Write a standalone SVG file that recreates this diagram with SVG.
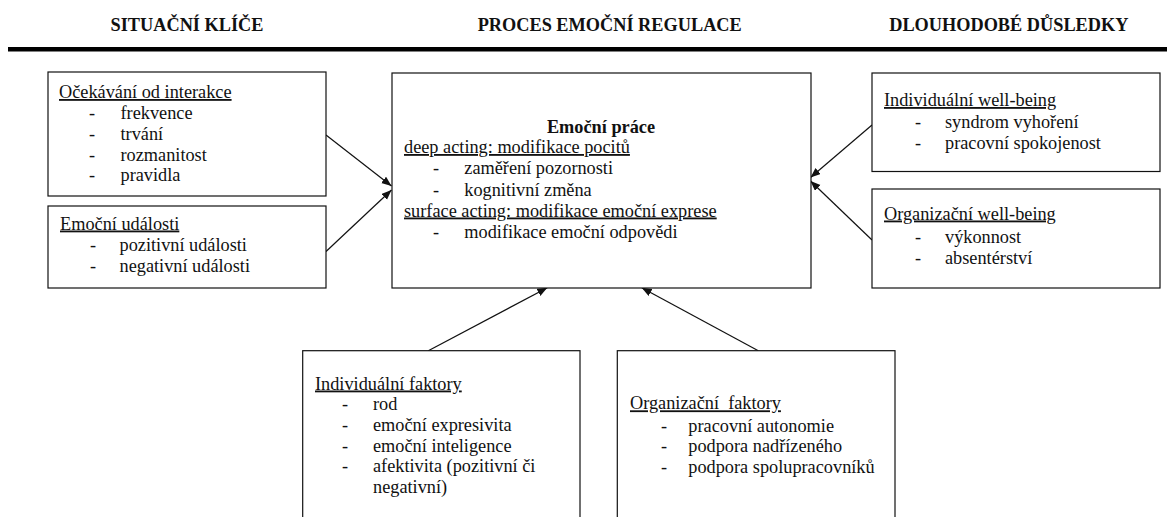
<svg xmlns="http://www.w3.org/2000/svg" width="1170" height="517" viewBox="0 0 1170 517">
<defs>
<style>
text{font-family:"Liberation Serif","Times New Roman",serif;font-size:18.3px;fill:#111}
.h{font-weight:bold;text-anchor:middle}
.b{font-weight:bold}
.u{text-decoration:underline}
.d{text-anchor:middle}
.box{fill:#fff;stroke:#111;stroke-width:1.2}
.c{stroke:#111;stroke-width:1.2;fill:none;marker-end:url(#ah)}
</style>
<marker id="ah" markerUnits="userSpaceOnUse" markerWidth="11" markerHeight="9" refX="10" refY="4" orient="auto">
<path d="M0,0 L10,4 L0,8 z" fill="#111"/>
</marker>
</defs>
<rect width="1170" height="517" fill="#fff"/>
<g id="headers">
<text class="h" x="187" y="30.5">SITUAČNÍ KLÍČE</text>
<text class="h" x="609.7" y="30.5">PROCES EMOČNÍ REGULACE</text>
<text class="h" x="1008.8" y="30.5">DLOUHODOBÉ DŮSLEDKY</text>
<rect x="8" y="47" width="1159" height="4.5" fill="#000"/>
</g>
<g id="connectors">
<line class="c" x1="326" y1="135" x2="391.5" y2="186"/>
<line class="c" x1="326" y1="251.5" x2="391.5" y2="190"/>
<line class="c" x1="872" y1="125" x2="810.5" y2="177.5"/>
<line class="c" x1="872" y1="240" x2="810.5" y2="181"/>
<line class="c" x1="428.3" y1="350.7" x2="547.3" y2="287.7"/>
<line class="c" x1="758.3" y1="350.7" x2="641.7" y2="287.7"/>
</g>
<g id="ocekavani">
<rect class="box" x="48" y="72" width="278" height="124"/>
<text class="u" x="59" y="98">Očekávání od interakce</text>
<text class="d" x="92" y="119">-</text><text x="120.5" y="119">frekvence</text>
<text class="d" x="92" y="140">-</text><text x="120.5" y="140">trvání</text>
<text class="d" x="92" y="160.5">-</text><text x="120.5" y="160.5">rozmanitost</text>
<text class="d" x="92" y="181">-</text><text x="120.5" y="181">pravidla</text>
</g>
<g id="emocni-udalosti">
<rect class="box" x="48" y="206" width="278" height="82"/>
<text class="u" x="60" y="229.5">Emoční události</text>
<text class="d" x="93" y="251">-</text><text x="119.5" y="251">pozitivní události</text>
<text class="d" x="93" y="271.5">-</text><text x="119.5" y="271.5">negativní události</text>
</g>
<g id="emocni-prace">
<rect class="box" x="392" y="73" width="419" height="215"/>
<text class="b" x="601" y="132.5" text-anchor="middle">Emoční práce</text>
<text class="u" x="404" y="153">deep acting: modifikace pocitů</text>
<text class="d" x="436" y="174.3">-</text><text x="464.3" y="174.3">zaměření pozornosti</text>
<text class="d" x="436" y="195.5">-</text><text x="464.3" y="195.5">kognitivní změna</text>
<text class="u" x="404" y="216.5">surface acting: modifikace emoční exprese</text>
<text class="d" x="436" y="238">-</text><text x="464.3" y="238">modifikace emoční odpovědi</text>
</g>
<g id="individualni-wellbeing">
<rect class="box" x="872" y="73" width="288" height="98.5"/>
<text class="u" x="884" y="106">Individuální well-being</text>
<text class="d" x="918" y="128">-</text><text x="945" y="128">syndrom vyhoření</text>
<text class="d" x="918" y="149">-</text><text x="945" y="149">pracovní spokojenost</text>
</g>
<g id="organizacni-wellbeing">
<rect class="box" x="872" y="189" width="288" height="99"/>
<text class="u" x="884" y="219.5">Organizační well-being</text>
<text class="d" x="918" y="242.5">-</text><text x="945" y="242.5">výkonnost</text>
<text class="d" x="918" y="263.5">-</text><text x="945" y="263.5">absentérství</text>
</g>
<g id="individualni-faktory">
<rect class="box" x="302.7" y="350.7" width="277.3" height="200"/>
<text class="u" x="315" y="389.5">Individuální faktory</text>
<text class="d" x="345" y="410">-</text><text x="373" y="410">rod</text>
<text class="d" x="345" y="431">-</text><text x="373" y="431">emoční expresivita</text>
<text class="d" x="345" y="451.5">-</text><text x="373" y="451.5">emoční inteligence</text>
<text class="d" x="345" y="472">-</text><text x="373" y="472">afektivita (pozitivní či</text>
<text x="373" y="493">negativní)</text>
</g>
<g id="organizacni-faktory">
<rect class="box" x="617.3" y="350.7" width="277.7" height="200"/>
<text class="u" x="630" y="409.3" xml:space="preserve">Organizační  faktory</text>
<text class="d" x="664" y="431.5">-</text><text x="688.3" y="431.5">pracovní autonomie</text>
<text class="d" x="664" y="452">-</text><text x="688.3" y="452">podpora nadřízeného</text>
<text class="d" x="664" y="472.5">-</text><text x="688.3" y="472.5">podpora spolupracovníků</text>
</g>
</svg>
